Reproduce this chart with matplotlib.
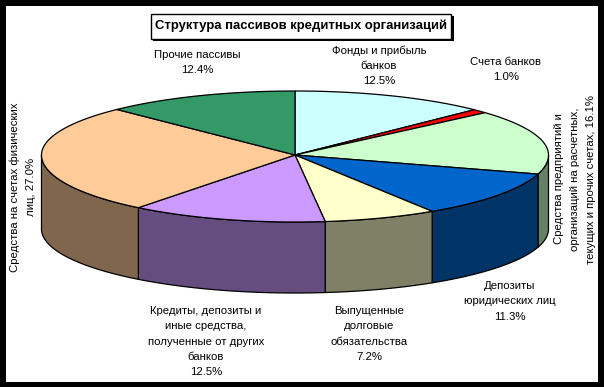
#!/usr/bin/python3
import numpy as np
import matplotlib
matplotlib.use('Agg')
import matplotlib.pyplot as plt
from matplotlib.patches import Polygon, Rectangle

plt.rcParams['font.family'] = ['Liberation Sans', 'DejaVu Sans']

title = 'Структура пассивов кредитных организаций'
# clockwise from the top of the pie
values = [12.5, 1.0, 16.1, 11.3, 7.2, 12.5, 27.0, 12.4]
colors = ['#CCFFFF', '#FF0000', '#CCFFCC', '#0066CC', '#FFFFCC', '#CC99FF', '#FFCC99', '#339966']
names = ['Фонды и прибыль\nбанков\n', 'Счета банков\n',
         'Средства предприятий и\nорганизаций на расчетных,\nтекущих и прочих счетах, ',
         'Депозиты\nюридических лиц\n', 'Выпущенные\nдолговые\nобязательства\n',
         'Кредиты, депозиты и\nиные средства,\nполученные от других\nбанков\n',
         'Средства на счетах физических\nлиц, ', 'Прочие пассивы\n']

# pie geometry in pixels
cx, cy = 295, 155
rx = 253.5
ry_back, ry_front = 64, 67
depth = 74
ry_floor = 64

fig = plt.figure(figsize=(6.04, 3.87), dpi=100, facecolor='black')
ax = fig.add_axes([0, 0, 1, 1])
ax.set_xlim(0, 604)
ax.set_ylim(387, 0)
ax.axis('off')

ax.add_patch(Rectangle((6, 6), 592, 376, fc='white', ec='none', zorder=0))


def arc(a0, a1):
    # top rim, slightly flatter behind the centre
    t = np.radians(np.linspace(a0, a1, 120))
    c = np.cos(t)
    return np.column_stack([cx + rx * np.sin(t), cy - np.where(c > 0, ry_back, ry_front) * c])


def floor_arc(a0, a1):
    t = np.radians(np.linspace(a0, a1, 120))
    return np.column_stack([cx + rx * np.sin(t), cy + depth - ry_floor * np.cos(t)])


def darker(c):
    return tuple(v * 0.5 for v in matplotlib.colors.to_rgb(c))


edges = np.concatenate([[0], np.cumsum(values)]) * 3.6
for i, c in enumerate(colors):
    a0, a1 = edges[i], edges[i + 1]
    # side wall, only for the front half
    s0, s1 = max(a0, 90), min(a1, 270)
    if s1 > s0:
        wall = np.vstack([arc(s0, s1), floor_arc(s0, s1)[::-1]])
        ax.add_patch(Polygon(wall, closed=True, fc=darker(c), ec='black', lw=0.9, zorder=2))
    top = np.vstack([[cx, cy], arc(a0, a1)])
    ax.add_patch(Polygon(top, closed=True, fc=c, ec='black', lw=0.9, zorder=3))

# title box with shadow
ax.add_patch(Rectangle((153, 16), 301, 25, fc='black', ec='none', zorder=4))
ax.add_patch(Rectangle((150.5, 13.5), 300, 25, fc='white', ec='black', lw=1, zorder=5))
ax.text(301, 26, title, ha='center', va='center', fontsize=9.45, fontweight='bold', zorder=6)


def label(i, x, y, rotation=0, step=15.3):
    # x, y is the centre of the first line; lines go down, or right when rotated
    lines = (names[i] + '%.1f%%' % values[i]).split('\n')
    for n, line in enumerate(lines):
        if rotation:
            ax.text(x + n * step, y, line, ha='center', va='center', fontsize=8.2, rotation=90)
        else:
            ax.text(x, y + n * step, line, ha='center', va='center', fontsize=8.2)


label(0, 379, 50.5)
label(1, 506, 62)
label(2, 559, 179, rotation=90, step=16)
label(3, 510, 286)
label(4, 369, 311)
label(5, 206, 311)
label(6, 14.5, 187, rotation=90, step=16)
label(7, 197.5, 55)

fig.savefig('out.png', dpi=100, facecolor='black')
